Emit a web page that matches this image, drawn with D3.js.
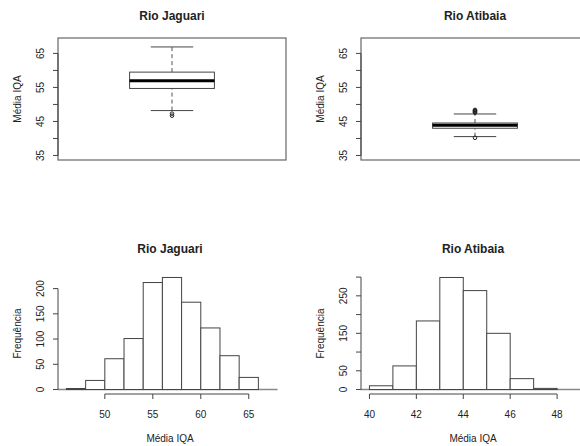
<!DOCTYPE html>
<html>
<head>
<meta charset="utf-8">
<script src="https://cdn.jsdelivr.net/npm/d3@7"></script>
<style>
body { margin: 0; background: #fff; }
text { font-family: "Liberation Sans", Arial, sans-serif; fill: #222; }
</style>
</head>
<body>
<div id="container"></div>
<script>
var titles = ["Rio Jaguari", "Rio Atibaia"];

// boxplot stats: lower whisker, q1, median, q3, upper whisker
var jaguariBox = [48.2, 54.7, 57.0, 59.5, 66.9],
    jaguariOut = [47.3, 46.7];
var atibaiaBox = [40.55, 43.0, 43.85, 44.55, 47.2],
    atibaiaOut = [40.2, 47.6, 47.8, 48.0, 48.2, 48.4];

var boxYlim = [35, 68.2],
    boxTicks = [35, 40, 45, 50, 55, 60, 65],
    boxLabels = [35, 45, 55, 65];

// histogram breaks and counts
var jaguariBreaks = [46, 48, 50, 52, 54, 56, 58, 60, 62, 64, 66],
    jaguariCounts = [2, 18, 61, 101, 212, 222, 173, 122, 67, 24];
var atibaiaBreaks = [40, 41, 42, 43, 44, 45, 46, 47, 48],
    atibaiaCounts = [10, 63, 183, 299, 264, 150, 29, 3];

var jaguariXlim = [46, 68],
    jaguariXTicks = [50, 55, 60, 65],
    jaguariYTicks = [0, 50, 100, 150, 200],
    jaguariYLabels = [0, 50, 100, 150, 200];
var atibaiaXlim = [40, 49],
    atibaiaXTicks = [40, 42, 44, 46, 48],
    atibaiaYTicks = [0, 50, 100, 150, 200, 250, 300],
    atibaiaYLabels = [0, 50, 150, 250];

var width = 580, height = 446,
    colX = [58, 361],
    plotW = 228,
    boxTop = 38, boxBottom = 160,
    histTop = 273, histBottom = 394,
    line = "#444";

// R style 4% extension of a range
function ext(r) {
    var d = (r[1] - r[0]) * 0.04;
    return [r[0] - d, r[1] + d];
}

var svg = d3.select("#container").append("svg")
    .attr("width", width)
    .attr("height", height)

function yAxis(g, y, x0, ticks, labels, title) {
    g.append("line")
        .attr("x1", x0).attr("x2", x0)
        .attr("y1", y(d3.min(ticks))).attr("y2", y(d3.max(ticks)))
        .attr("stroke", line)
    g.selectAll(".ytick").data(ticks).enter().append("line")
        .attr("x1", x0 - 5).attr("x2", x0)
        .attr("y1", d => y(d)).attr("y2", d => y(d))
        .attr("stroke", line)
    g.selectAll(".ylab").data(labels).enter().append("text")
        .attr("transform", d => "translate(" + (x0 - 14) + "," + y(d) + ") rotate(-90)")
        .attr("text-anchor", "middle")
        .style("font-size", "10px")
        .text(d => d)
    g.append("text")
        .attr("transform", "translate(" + (x0 - 37) + "," + ((y.range()[0] + y.range()[1]) / 2) + ") rotate(-90)")
        .attr("text-anchor", "middle")
        .style("font-size", "10px")
        .text(title)
}

function boxPanel(i, stats, outliers) {
    var x0 = colX[i];
    var g = svg.append("g")

    var y = d3.scaleLinear().domain(ext(boxYlim)).range([boxBottom, boxTop]);
    var x = d3.scaleLinear().domain([0.5, 1.5]).range([x0, x0 + plotW]);
    var bw = 0.186, sw = 0.093;

    g.append("text")
        .attr("x", x(1)).attr("y", 19.5)
        .attr("text-anchor", "middle")
        .style("font-size", "12px").style("font-weight", "bold")
        .text(titles[i])

    g.append("rect")
        .attr("x", x0).attr("y", boxTop)
        .attr("width", plotW).attr("height", boxBottom - boxTop)
        .attr("fill", "none").attr("stroke", "#666").attr("stroke-width", 1.2)

    yAxis(g, y, x0, boxTicks, boxLabels, "Média IQA")

    // whiskers
    g.selectAll(".whisk").data([[stats[0], stats[1]], [stats[3], stats[4]]]).enter().append("line")
        .attr("x1", x(1)).attr("x2", x(1))
        .attr("y1", d => y(d[0])).attr("y2", d => y(d[1]))
        .attr("stroke", "#555").attr("stroke-dasharray", "4,3")
    g.selectAll(".staple").data([stats[0], stats[4]]).enter().append("line")
        .attr("x1", x(1 - sw)).attr("x2", x(1 + sw))
        .attr("y1", d => y(d)).attr("y2", d => y(d))
        .attr("stroke", line)

    g.append("rect")
        .attr("x", x(1 - bw)).attr("y", y(stats[3]))
        .attr("width", x(1 + bw) - x(1 - bw)).attr("height", y(stats[1]) - y(stats[3]))
        .attr("fill", "#fff").attr("stroke", line)

    g.append("line")
        .attr("x1", x(1 - bw)).attr("x2", x(1 + bw))
        .attr("y1", y(stats[2])).attr("y2", y(stats[2]))
        .attr("stroke", "#000").attr("stroke-width", 3)

    g.selectAll(".out").data(outliers).enter().append("circle")
        .attr("cx", x(1)).attr("cy", d => y(d)).attr("r", 1.8)
        .attr("fill", "none").attr("stroke", "#222")
}

function histPanel(i, breaks, counts, xlim, xTicks, yTicks, yLabels) {
    var x0 = colX[i];
    var g = svg.append("g")

    var x = d3.scaleLinear().domain(ext(xlim)).range([x0, x0 + plotW]);
    var y = d3.scaleLinear().domain(ext([0, d3.max(counts)])).range([histBottom, histTop]);

    g.append("text")
        .attr("x", x0 + plotW / 2 - 2).attr("y", 253)
        .attr("text-anchor", "middle")
        .style("font-size", "12px").style("font-weight", "bold")
        .text(titles[i])

    g.append("line")
        .attr("x1", x0).attr("x2", x(xlim[1]))
        .attr("y1", y(0)).attr("y2", y(0))
        .attr("stroke", "#888").attr("stroke-width", 1.5)

    g.selectAll(".bar").data(counts).enter().append("rect")
        .attr("x", (d, j) => x(breaks[j]))
        .attr("y", d => y(d))
        .attr("width", (d, j) => x(breaks[j + 1]) - x(breaks[j]))
        .attr("height", d => y(0) - y(d))
        .attr("fill", "#fff").attr("stroke", line)

    yAxis(g, y, x0, yTicks, yLabels, "Frequência")

    g.append("line")
        .attr("x1", x(d3.min(xTicks))).attr("x2", x(d3.max(xTicks)))
        .attr("y1", histBottom).attr("y2", histBottom)
        .attr("stroke", line)
    g.selectAll(".xtick").data(xTicks).enter().append("line")
        .attr("x1", d => x(d)).attr("x2", d => x(d))
        .attr("y1", histBottom).attr("y2", histBottom + 5)
        .attr("stroke", line)
    g.selectAll(".xlab").data(xTicks).enter().append("text")
        .attr("x", d => x(d)).attr("y", 417.5)
        .attr("text-anchor", "middle")
        .style("font-size", "10px")
        .text(d => d)
    g.append("text")
        .attr("x", x0 + plotW / 2 - 2).attr("y", 441.5)
        .attr("text-anchor", "middle")
        .style("font-size", "10px")
        .text("Média IQA")
}

boxPanel(0, jaguariBox, jaguariOut)
boxPanel(1, atibaiaBox, atibaiaOut)
histPanel(0, jaguariBreaks, jaguariCounts, jaguariXlim, jaguariXTicks, jaguariYTicks, jaguariYLabels)
histPanel(1, atibaiaBreaks, atibaiaCounts, atibaiaXlim, atibaiaXTicks, atibaiaYTicks, atibaiaYLabels)
</script>
</body>
</html>
